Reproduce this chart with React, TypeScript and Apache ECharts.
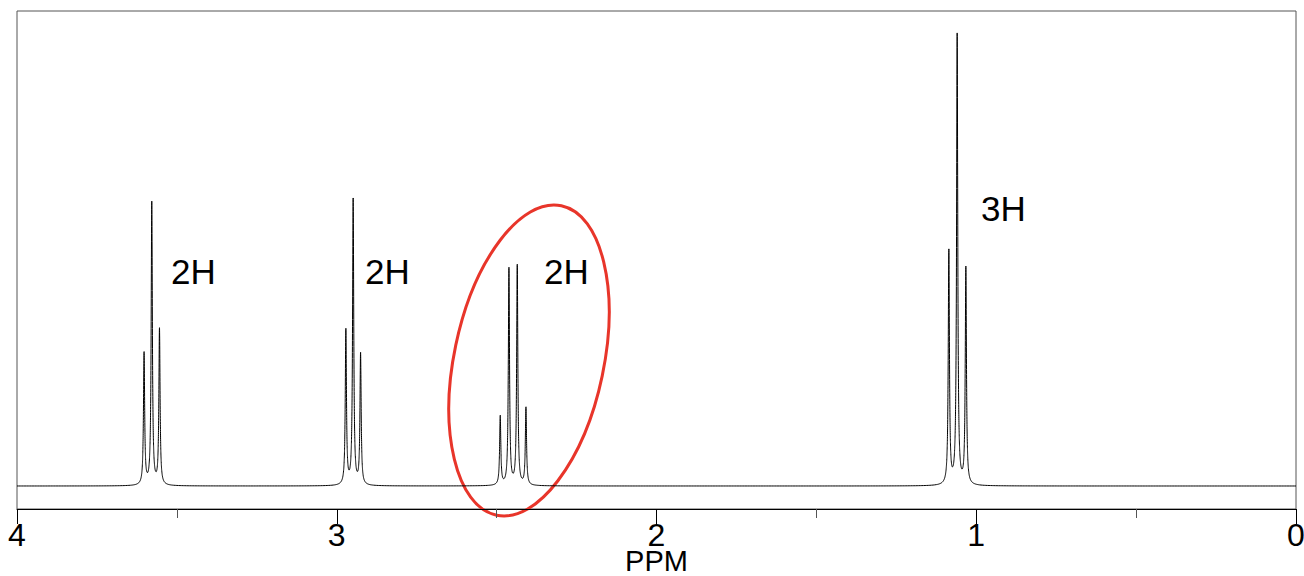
import React, { useEffect, useRef } from "react";
import * as echarts from "echarts";

// Peak list (chemical shift in ppm, peak intensity)
const peakShifts: number[] = [
  3.6026, 3.5785, 3.5544,
  2.9715, 2.9487, 2.9255,
  2.4887, 2.4615, 2.4355, 2.4083,
  1.0857, 1.0597, 1.0325,
];
const peakIntensities: number[] = [
  132, 283, 156,
  155, 286, 131,
  69, 217, 220, 78,
  234, 450, 217,
];
const lineHalfWidth = 0.0022; // ppm, Lorentzian half width

const xTicks: number[] = [0, 1, 2, 3, 4];
const integrationLabels: string[] = ["2H", "2H", "2H", "3H"];

function buildSpectrum(): number[][] {
  const xs: number[] = [];
  for (let x = 0; x <= 4.0000001; x += 0.005) xs.push(+x.toFixed(5));
  for (const p of peakShifts) {
    for (let d = -0.04; d <= 0.04; d += 0.0001) xs.push(+(p + d).toFixed(5));
    xs.push(p);
  }
  xs.sort((a, b) => a - b);
  const out: number[][] = [];
  let last = -1;
  for (const x of xs) {
    if (x === last) continue;
    last = x;
    let y = 0;
    for (let i = 0; i < peakShifts.length; i++) {
      const d = x - peakShifts[i];
      y += (peakIntensities[i] * lineHalfWidth * lineHalfWidth) / (d * d + lineHalfWidth * lineHalfWidth);
    }
    out.push([x, y]);
  }
  return out;
}

export default function App() {
  const ref = useRef<HTMLDivElement>(null);
  useEffect(() => {
    if (!ref.current) return;
    const chart = echarts.init(ref.current, undefined, { renderer: "svg" });
    const font = "'Liberation Sans', Arial, Helvetica, sans-serif";
    const labelPos = [
      { x: 171, y: 254 },
      { x: 365, y: 254 },
      { x: 544, y: 254 },
      { x: 981, y: 191 },
    ];
    chart.setOption({
      animation: false,
      backgroundColor: "#ffffff",
      grid: {
        left: 17,
        right: 8,
        top: 11,
        bottom: 67,
        containLabel: false,
        outerBoundsMode: "none",
        show: true,
        borderColor: "#555555",
        borderWidth: 1,
        backgroundColor: "transparent",
      },
      xAxis: {
        type: "value",
        min: 0,
        max: 4,
        interval: 1,
        inverse: true,
        name: "PPM",
        nameLocation: "middle",
        nameGap: 39,
        nameMoveOverlap: false,
        nameTextStyle: { fontFamily: font, fontSize: 29, lineHeight: 25, color: "#000" },
        axisLine: { show: true, onZero: false, lineStyle: { color: "#000", width: 1 } },
        axisTick: { show: true, inside: false, length: 15, lineStyle: { color: "#000", width: 1 } },
        minorTick: { show: true, splitNumber: 2, length: 9, lineStyle: { color: "#555", width: 1 } },
        axisLabel: {
          fontFamily: font,
          fontSize: 32,
          lineHeight: 26,
          color: "#000",
          margin: 13,
          formatter: (v: number) => (xTicks.includes(v) ? String(v) : ""),
        },
        splitLine: { show: false },
      },
      yAxis: {
        type: "value",
        min: -23,
        max: 475,
        show: false,
        splitLine: { show: false },
      },
      series: [
        {
          type: "line",
          data: buildSpectrum(),
          showSymbol: false,
          symbol: "none",
          lineStyle: { color: "#000", width: 1 },
          silent: true,
        },
      ],
      graphic: [
        ...integrationLabels.map((t, i) => ({
          type: "text",
          x: labelPos[i].x,
          y: labelPos[i].y,
          style: { text: t, font: `35px ${font}`, fill: "#000", verticalAlign: "top" },
        })),
        {
          type: "ellipse",
          x: 529,
          y: 360.5,
          rotation: -0.206,
          shape: { cx: 0, cy: 0, rx: 74.8, ry: 158 },
          style: { fill: "none", stroke: "#e8352a", lineWidth: 3 },
        },
      ],
    });
    return () => chart.dispose();
  }, []);
  return (
    <div
      ref={ref}
      style={{ position: "fixed", left: 0, top: 0, width: 1304, height: 576 }}
    />
  );
}
